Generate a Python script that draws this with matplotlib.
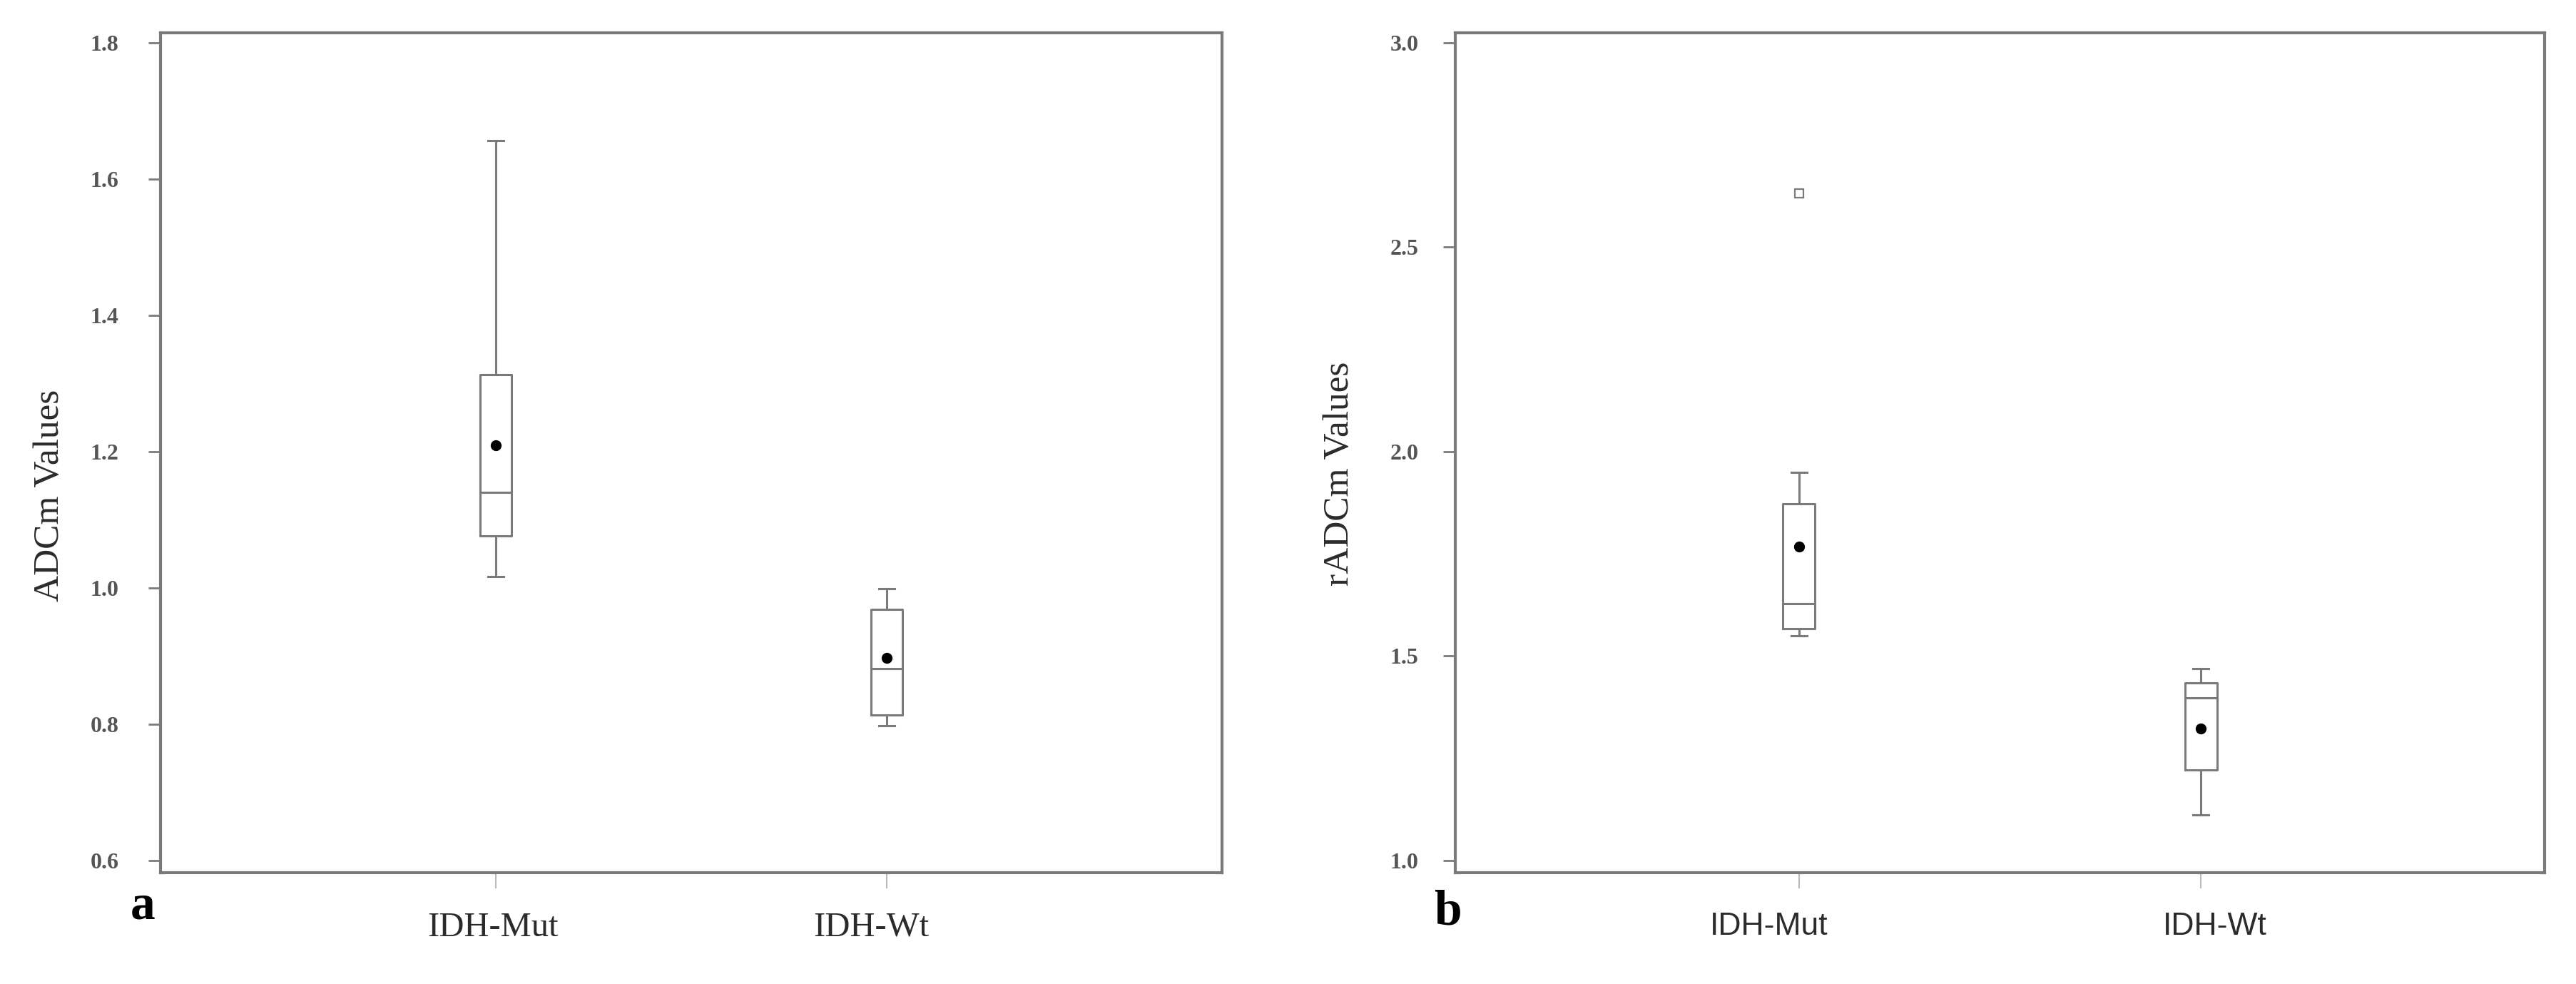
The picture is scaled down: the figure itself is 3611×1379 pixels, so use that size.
import matplotlib
matplotlib.use("Agg")
import matplotlib.pyplot as plt
from matplotlib.transforms import ScaledTranslation

# ---- data ----
groups = ["IDH-Mut", "IDH-Wt"]

adc_whislo = [1.017, 0.798]
adc_q1 = [1.076, 0.814]
adc_med = [1.140, 0.882]
adc_q3 = [1.313, 0.969]
adc_whishi = [1.657, 0.999]
adc_mean = [1.209, 0.897]
adc_fliers = [[], []]

radc_whislo = [1.550, 1.112]
radc_q1 = [1.568, 1.221]
radc_med = [1.629, 1.398]
radc_q3 = [1.872, 1.434]
radc_whishi = [1.950, 1.470]
radc_mean = [1.768, 1.323]
radc_fliers = [[2.631], []]

adc_ticks = [0.6, 0.8, 1.0, 1.2, 1.4, 1.6, 1.8]
radc_ticks = [1.0, 1.5, 2.0, 2.5, 3.0]

W, H = 3612, 1379
fig = plt.figure(figsize=(W / 100, H / 100), dpi=100)
fig.patch.set_facecolor("white")

GRAY = "#7a7a7a"
TXT = "#2b2b2b"


def make_stats(lo, q1, med, q3, hi, mean, fl):
    out = []
    for i in range(len(lo)):
        out.append(dict(whislo=lo[i], q1=q1[i], med=med[i], q3=q3[i],
                        whishi=hi[i], mean=mean[i], fliers=fl[i]))
    return out


def panel(rect, stats, ylim, yticks, xfamily, xsize, ypad, xshift):
    ax = fig.add_axes(rect)
    lp = dict(color=GRAY, linewidth=2.2)
    ax.bxp(stats, positions=[1, 2], widths=0.08, showmeans=True,
           showfliers=True, capwidths=0.04,
           boxprops=lp, whiskerprops=lp, capprops=lp, medianprops=lp,
           meanprops=dict(marker="o", markerfacecolor="black",
                          markeredgecolor="black", markersize=10),
           flierprops=dict(marker="s", markerfacecolor="white",
                           markeredgecolor=GRAY, markersize=8,
                           markeredgewidth=1.6))
    ax.set_xlim(0.144, 2.856)
    ax.set_ylim(*ylim)
    ax.set_yticks(yticks)
    ax.set_yticklabels(["{:.1f}".format(t) for t in yticks],
                       family="Liberation Serif", fontweight="bold",
                       fontsize=23, color="#555555")
    ax.set_xticks([1, 2])
    ax.set_xticklabels([])
    # category labels, placed under their ticks with the small offsets
    # seen in the original figure
    base = ax.get_xaxis_transform()
    for pos, name, dx in zip([1, 2], groups, xshift):
        tr = base + ScaledTranslation(dx / 100, -55 / 100, fig.dpi_scale_trans)
        ax.text(pos, 0, name, transform=tr, ha="center", va="top",
                family=xfamily, fontsize=xsize, color=TXT)
    ax.tick_params(axis="y", direction="out", length=12, width=2,
                   color=GRAY, pad=ypad)
    ax.tick_params(axis="x", direction="out", length=16, width=1.2,
                   color="#aaaaaa")
    for s in ax.spines.values():
        s.set_color(GRAY)
        s.set_linewidth(3)
    return ax


ax1 = panel([225 / W, 1 - 1223 / H, (1713 - 225) / W, (1223 - 46) / H],
            make_stats(adc_whislo, adc_q1, adc_med, adc_q3, adc_whishi,
                       adc_mean, adc_fliers),
            (0.5822, 1.8147), adc_ticks,
            ["Liberation Serif"], 35, 30, [-4, -22])

ax2 = panel([2040 / W, 1 - 1223 / H, (3567 - 2040) / W, (1223 - 46) / H],
            make_stats(radc_whislo, radc_q1, radc_med, radc_q3, radc_whishi,
                       radc_mean, radc_fliers),
            (0.9703, 3.0244), radc_ticks,
            ["Liberation Sans Narrow", "Liberation Sans"], 32, 25, [-42, 20])

fig.text(70 / W, 1 - 694 / H, "ADCm Values", rotation=90, ha="center",
         va="center", family="Liberation Serif", fontsize=37, color=TXT)
fig.text(1878 / W, 1 - 664 / H, "rADCm Values", rotation=90, ha="center",
         va="center", family="Liberation Serif", fontsize=37, color=TXT)

fig.text(200 / W, 1 - 1288 / H, "a", ha="center", va="baseline",
         family="Liberation Serif", fontweight="bold", fontsize=50,
         color="black")
fig.text(2029 / W, 1 - 1296 / H, "b", ha="center", va="baseline",
         family="Liberation Serif", fontweight="bold", fontsize=50,
         color="black")

fig.savefig("out.png", dpi=100, facecolor="white")
